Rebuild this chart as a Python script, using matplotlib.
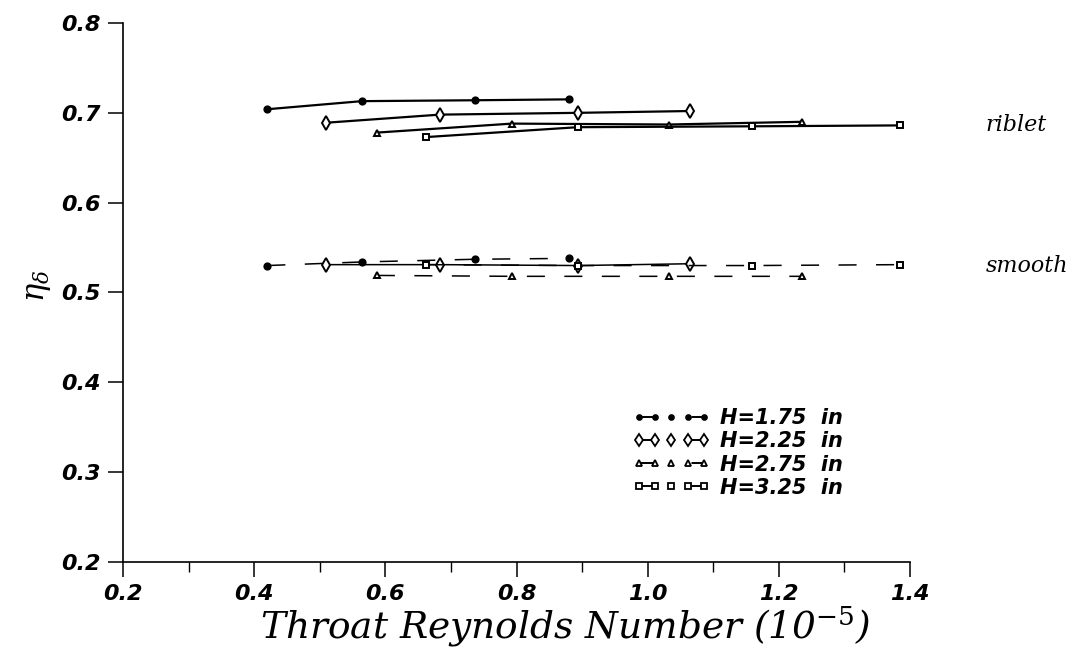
import numpy as np
import matplotlib
matplotlib.use("Agg")
import matplotlib.pyplot as plt
from matplotlib.lines import Line2D

# throat Reynolds number (x 1e-5) for each slot height
re_175 = [0.42, 0.564, 0.737, 0.88]
re_225 = [0.51, 0.683, 0.894, 1.064]
re_275 = [0.587, 0.793, 1.032, 1.235]
re_325 = [0.662, 0.893, 1.159, 1.384]

# efficiency eta_delta, riblet surface
rib_175 = [0.704, 0.713, 0.714, 0.715]
rib_225 = [0.689, 0.698, 0.700, 0.702]
rib_275 = [0.678, 0.688, 0.687, 0.690]
rib_325 = [0.673, 0.684, 0.685, 0.686]

# efficiency eta_delta, smooth surface
smo_175 = [0.530, 0.534, 0.537, 0.538]
smo_225 = [0.531, 0.531, 0.530, 0.532]
smo_275 = [0.519, 0.518, 0.518, 0.518]
smo_325 = [0.531, 0.530, 0.530, 0.531]

labels = ["H=1.75  in", "H=2.25  in", "H=2.75  in", "H=3.25  in"]
markers = ["o", "d", "^", "s"]
msizes = [4.5, 7, 5, 5]

plt.rcParams["lines.scale_dashes"] = False
plt.rcParams["mathtext.fontset"] = "dejavuserif"

fig = plt.figure(figsize=(10.87, 6.57), dpi=100)
ax = fig.add_axes([0.1132, 0.1446, 0.7240, 0.8204])

xs = [re_175, re_225, re_275, re_325]
ribs = [rib_175, rib_225, rib_275, rib_325]
smos = [smo_175, smo_225, smo_275, smo_325]
smooth_styles = [(0, (13, 14)), "-", (0, (13, 14)), (0, (13, 14))]

for i in range(4):
    fc = "black" if i == 0 else "white"
    ax.plot(xs[i], ribs[i], color="black", lw=1.6, marker=markers[i],
            ms=msizes[i], mfc=fc, mec="black", mew=1.4)
    ax.plot(xs[i], smos[i], color="black", lw=1.1, ls=smooth_styles[i],
            marker=markers[i], ms=msizes[i], mfc=fc, mec="black", mew=1.4)

ax.set_xlim(0.2, 1.4)
ax.set_ylim(0.2, 0.8)
ax.spines["top"].set_visible(False)
ax.spines["right"].set_visible(False)
ax.spines["left"].set_linewidth(1.2)
ax.spines["bottom"].set_linewidth(1.2)

ax.set_xticks(np.arange(0.2, 1.41, 0.2))
ax.set_xticks(np.arange(0.3, 1.4, 0.2), minor=True)
ax.set_yticks(np.arange(0.2, 0.81, 0.1))
ax.xaxis.set_major_formatter(matplotlib.ticker.FormatStrFormatter("%.1f"))
ax.yaxis.set_major_formatter(matplotlib.ticker.FormatStrFormatter("%.1f"))
ax.tick_params(axis="both", which="major", direction="out", length=11,
               width=1.1, pad=5)
ax.tick_params(axis="x", which="minor", direction="out", length=7, width=1.0)
for lab in ax.get_xticklabels() + ax.get_yticklabels():
    lab.set_fontfamily("DejaVu Sans")
    lab.set_fontstyle("italic")
    lab.set_fontweight("bold")
    lab.set_fontsize(16)

# x label placed by hand below the tick labels
fig.text(0.52, 0.028, r"Throat Reynolds Number (10$^{-5}$)", fontsize=27,
         fontfamily="DejaVu Serif", fontstyle="italic", ha="center",
         va="baseline")
fig.text(0.035, 0.565, r"$\eta_\delta$", fontsize=22, rotation=90,
         ha="center", va="center")

ax.text(1.515, 0.686, "riblet", fontsize=16, fontfamily="DejaVu Serif",
        fontstyle="italic", va="center", clip_on=False)
ax.text(1.515, 0.530, "smooth", fontsize=16, fontfamily="DejaVu Serif",
        fontstyle="italic", va="center", clip_on=False)

# legend samples: marker-line-marker, lone marker, marker-line-marker
handles = []
for i in range(4):
    fc = "black" if i == 0 else "white"
    handles.append(Line2D([], [], color="black", lw=1.4, ls=(0, (12.6, 25.2)),
                          marker=markers[i], ms=msizes[i] - 1, mfc=fc,
                          mec="black", mew=1.3))
leg = fig.legend(handles, labels, loc="upper left",
                 bbox_to_anchor=(0.565, 0.407), frameon=False, numpoints=5,
                 handlelength=3.7, handletextpad=0.5, labelspacing=0.15,
                 prop={"family": "DejaVu Sans", "style": "italic",
                       "weight": "bold", "size": 15})

fig.savefig("out.png", dpi=100)
